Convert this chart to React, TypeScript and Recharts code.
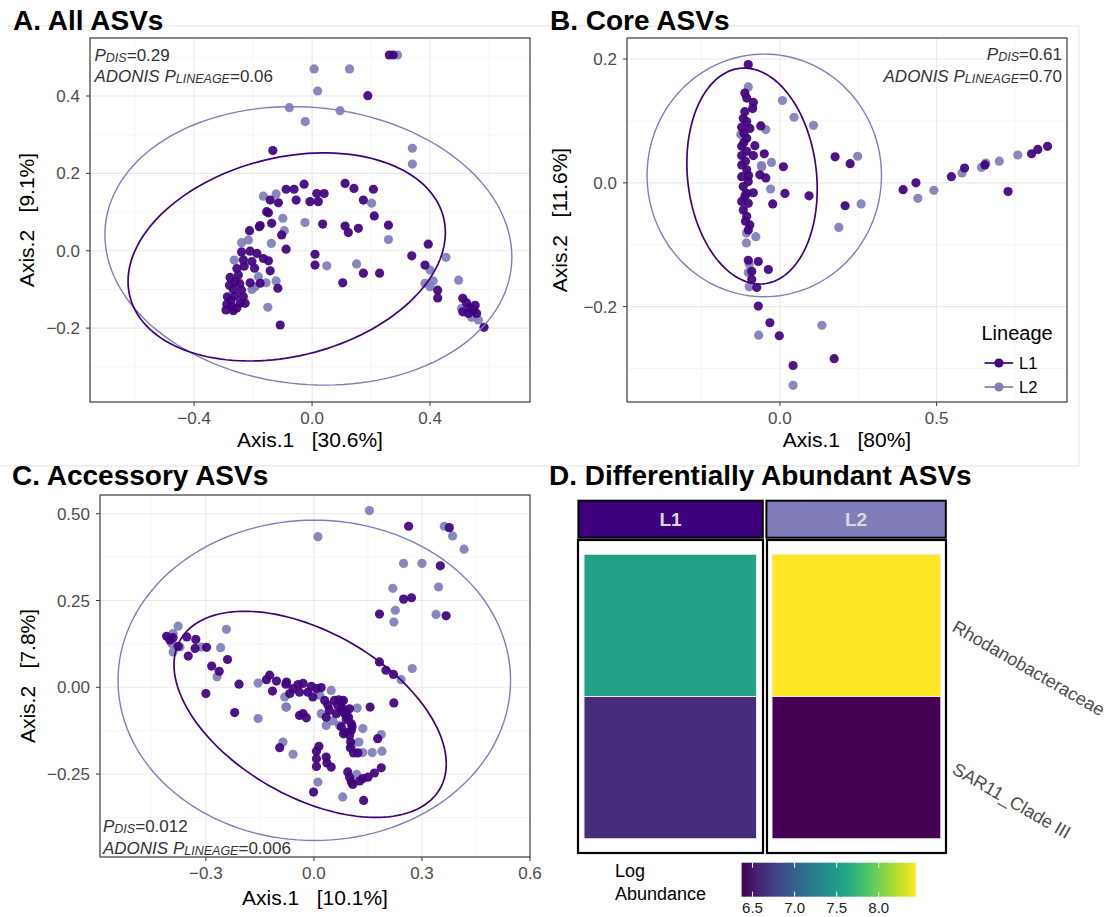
import React from "react";
import { ScatterChart, Scatter, XAxis, YAxis, CartesianGrid, BarChart, Bar } from "recharts";

const FONT = '"Liberation Sans", Arial, Helvetica, sans-serif';
const L1_COLOR = "#3F007D";
const L2_COLOR = "#807DBA";

/* ─── A. All ASVs ─────────────────────────────────────────── */
const ALL_L1: [number, number][] = [
  [0.275, 0.506], [0.262, 0.506], [0.189, 0.401], [-0.133, 0.259], [-0.027, 0.172],
  [-0.088, 0.159], [-0.061, 0.159], [-0.054, 0.131], [-0.007, 0.127], [0.021, 0.127],
  [0.016, 0.148], [0.041, 0.148], [0.112, 0.174], [0.142, 0.161], [0.208, 0.159],
  [0.174, 0.131], [0.211, 0.09], [0.259, 0.066], [0.036, 0.069], [0.112, 0.064],
  [0.123, 0.047], [0.157, 0.058], [0.394, 0.017], [0.338, -0.013], [0.383, -0.037],
  [0.01, -0.009], [0.01, -0.037], [0.174, -0.058], [0.229, -0.058], [0.104, -0.083],
  [-0.088, 0.004], [-0.103, 0.041], [-0.137, 0.071], [-0.179, 0.062], [-0.212, 0.052],
  [-0.154, 0.101], [-0.142, 0.131], [-0.114, 0.124], [-0.108, -0.192], [0.426, -0.102],
  [0.426, -0.122], [-0.148, 0.098], [-0.176, 0.065], [-0.239, -0.003], [-0.21, -0.001],
  [-0.187, -0.007], [-0.165, -0.02], [-0.148, -0.026], [-0.233, -0.024], [-0.204, -0.028],
  [-0.142, -0.052], [-0.255, -0.046], [-0.278, -0.069], [-0.25, -0.063], [-0.21, -0.083],
  [-0.176, -0.084], [-0.116, -0.097], [-0.28, -0.089], [-0.267, -0.1], [-0.239, -0.102],
  [-0.287, -0.119], [-0.261, -0.117], [-0.233, -0.119], [-0.289, -0.138], [-0.272, -0.145],
  [-0.244, -0.136], [-0.227, -0.136], [-0.292, -0.153], [-0.267, -0.155], [-0.262, -0.08],
  [-0.245, -0.085], [-0.275, -0.128], [-0.255, -0.148], [-0.23, -0.04], [-0.195, -0.045],
  [0.511, -0.123], [0.524, -0.135], [0.536, -0.147], [0.547, -0.154], [0.558, -0.162],
  [0.53, -0.162], [0.553, -0.141], [0.583, -0.198], [0.511, -0.158],
];
const ALL_L2: [number, number][] = [
  [0.29, 0.506], [0.007, 0.47], [0.127, 0.47], [0.019, 0.413], [-0.077, 0.37],
  [0.095, 0.362], [-0.023, 0.334], [0.34, 0.265], [0.34, 0.224], [-0.165, 0.141],
  [-0.122, 0.147], [-0.099, 0.084], [-0.024, 0.073], [-0.094, 0.052], [-0.138, 0.019],
  [-0.239, 0.021], [-0.216, 0.028], [-0.264, -0.024], [-0.182, -0.067], [-0.156, -0.083],
  [-0.122, -0.078], [-0.204, -0.1], [-0.15, -0.146], [0.202, 0.123], [0.259, 0.029],
  [0.05, -0.039], [0.151, -0.034], [0.454, -0.017], [0.4, -0.05], [0.411, -0.078],
  [0.383, -0.084], [0.4, -0.093], [0.497, -0.076], [-0.193, -0.093], [0.507, -0.149],
  [0.541, -0.172], [0.564, -0.179],
];

/* ─── B. Core ASVs ────────────────────────────────────────── */
const CORE_L1: [number, number][] = [
  [-0.101, 0.191], [-0.112, 0.145], [-0.106, 0.137], [-0.085, 0.13], [-0.087, 0.12],
  [-0.117, 0.104], [-0.106, 0.099], [-0.122, 0.09], [-0.096, 0.088], [-0.061, 0.092],
  [-0.106, 0.072], [-0.08, 0.06], [-0.122, 0.059], [-0.106, 0.051], [-0.085, 0.044],
  [-0.122, 0.044], [-0.05, 0.047], [0.011, 0.026], [-0.064, 0.013], [-0.045, 0.008],
  [-0.122, 0.029], [-0.106, 0.021], [-0.122, 0.01], [-0.101, 0.002], [-0.117, -0.006],
  [-0.106, -0.017], [-0.122, -0.03], [-0.101, -0.033], [-0.117, -0.044], [-0.106, -0.054],
  [-0.096, -0.068], [-0.101, -0.076], [-0.085, -0.016], [0.016, -0.017], [-0.023, -0.034],
  [0.093, -0.021], [0.176, 0.042], [0.224, 0.031], [0.208, -0.037], [-0.101, -0.125],
  [-0.069, -0.127], [-0.037, -0.14], [-0.09, -0.143], [-0.09, -0.156], [-0.074, -0.169],
  [-0.069, -0.199], [-0.032, -0.226], [-0.002, -0.247], [0.042, -0.295], [0.173, -0.284],
  [0.393, -0.011], [0.434, 0.0], [0.547, 0.01], [0.589, 0.024], [0.654, 0.029],
  [0.728, -0.014], [0.803, 0.047], [0.823, 0.054], [0.854, 0.059], [-0.115, 0.08],
  [-0.11, 0.035], [-0.115, 0.065], [-0.112, -0.022], [-0.11, -0.062], [-0.112, 0.115],
  [-0.1, 0.012],
];
const CORE_L2: [number, number][] = [
  [-0.101, 0.155], [0.008, 0.133], [0.045, 0.106], [0.107, 0.093], [-0.045, 0.086],
  [-0.125, 0.078], [-0.059, 0.028], [-0.027, 0.033], [-0.03, -0.01], [0.248, 0.043],
  [0.259, -0.034], [0.188, -0.072], [-0.107, -0.081], [-0.077, -0.087], [-0.107, -0.097],
  [-0.098, -0.131], [-0.101, -0.145], [-0.098, -0.168], [-0.068, -0.246], [0.134, -0.23],
  [0.042, -0.327], [0.44, -0.025], [0.491, -0.012], [0.581, 0.016], [0.643, 0.025],
  [0.657, 0.032], [0.7, 0.035], [0.759, 0.045], [-0.109, -0.017], [-0.058, 0.026],
];

/* ─── C. Accessory ASVs ───────────────────────────────────── */
const ACC_L1: [number, number][] = [
  [0.263, 0.464], [0.376, 0.46], [0.351, 0.35], [0.249, 0.254], [0.271, 0.258],
  [0.182, 0.211], [0.367, 0.206], [-0.409, 0.147], [-0.391, 0.143], [-0.4, 0.136],
  [-0.377, 0.118], [-0.353, 0.145], [-0.328, 0.138], [-0.33, 0.112], [-0.298, 0.115],
  [-0.349, 0.09], [-0.24, 0.08], [-0.284, 0.061], [-0.263, 0.046], [-0.208, 0.009],
  [-0.3, -0.018], [-0.22, -0.073], [-0.132, 0.022], [-0.123, 0.035], [-0.104, 0.018],
  [-0.115, -0.011], [-0.078, 0.009], [0.182, 0.073], [0.2, 0.049], [0.221, 0.037],
  [0.222, -0.045], [0.156, -0.057], [0.177, -0.148], [0.122, -0.189], [0.11, -0.189],
  [0.101, -0.174], [0.102, -0.158], [0.099, -0.138], [0.088, -0.129], [0.106, -0.114],
  [0.104, -0.105], [0.096, -0.086], [0.09, -0.074], [0.08, -0.062], [0.099, -0.062],
  [0.076, -0.043], [0.069, -0.036], [0.082, -0.038], [0.187, -0.232], [0.168, -0.247],
  [0.15, -0.259], [0.136, -0.263], [0.127, -0.27], [0.108, -0.28], [0.099, -0.259],
  [0.094, -0.244], [0.104, -0.273], [0.138, -0.326], [-0.001, -0.302], [0.014, -0.17],
  [0.007, -0.184], [0.034, -0.201], [0.048, -0.23], [0.007, -0.206], [0.007, -0.228],
  [0.036, -0.218], [-0.095, -0.174], [-0.076, 0.015], [-0.058, -0.004], [-0.044, 0.008],
  [-0.03, 0.011], [-0.04, -0.014], [-0.067, -0.018], [-0.007, 0.003], [0.007, -0.004],
  [0.02, -0.001], [-0.017, -0.014], [-0.003, -0.028], [0.03, -0.038], [0.039, -0.052],
  [0.043, -0.066], [0.057, -0.038], [0.066, -0.052], [0.076, -0.066], [0.085, -0.076],
  [0.062, -0.076], [0.034, -0.086], [-0.03, -0.076], [-0.021, -0.088], [-0.04, -0.081],
  [0.076, -0.114], [0.09, -0.093], [0.104, -0.124], [0.082, -0.134],
];
const ACC_L2: [number, number][] = [
  [0.154, 0.509], [0.011, 0.434], [0.362, 0.464], [0.385, 0.436], [0.417, 0.398],
  [0.249, 0.357], [0.3, 0.357], [0.346, 0.289], [0.219, 0.285], [0.226, 0.222],
  [0.222, 0.188], [0.339, 0.21], [-0.377, 0.176], [-0.391, 0.155], [-0.395, 0.126],
  [-0.372, 0.116], [-0.391, 0.102], [-0.312, 0.116], [-0.243, 0.167], [-0.259, 0.114],
  [-0.269, 0.03], [-0.155, -0.09], [-0.155, 0.012], [-0.081, -0.028], [-0.078, -0.057],
  [0.273, 0.054], [0.242, 0.022], [0.12, -0.06], [0.187, -0.136], [0.189, -0.184],
  [0.162, -0.188], [0.136, -0.188], [0.136, -0.119], [0.125, -0.158], [0.106, -0.167],
  [0.119, -0.251], [0.08, -0.316], [0.011, -0.273], [-0.058, -0.193], [-0.086, -0.158],
  [-0.076, -0.057], [0.048, -0.009], [0.016, -0.023], [0.02, -0.076], [0.053, -0.097],
  [0.071, -0.11], [0.034, -0.11],
];

// 95% ellipses per lineage: centre, half extents and phase between x and y
type Ell = { cx: number; cy: number; rx: number; ry: number; phase: number };
const ALL_ELL_L1: Ell = { cx: -0.086, cy: -0.016, rx: 0.538, ry: 0.269, phase: 1.334 };
const ALL_ELL_L2: Ell = { cx: -0.0125, cy: 0.0127, rx: 0.69, ry: 0.36, phase: 1.651 };
const CORE_ELL_L1: Ell = { cx: -0.089, cy: 0.011, rx: 0.208, ry: 0.1744, phase: 1.691 };
const CORE_ELL_L2: Ell = { cx: -0.05, cy: 0.012, rx: 0.374, ry: 0.196, phase: 1.571 };
const ACC_ELL_L1: Ell = { cx: -0.0105, cy: -0.078, rx: 0.378, ry: 0.297, phase: 2.072 };
const ACC_ELL_L2: Ell = { cx: 0.001, cy: 0.02, rx: 0.545, ry: 0.4615, phase: 1.571 };

/* ─── D. Differentially abundant ASVs ─────────────────────── */
const TAXA = ["Rhodanobacteraceae", "SAR11_Clade III"];
const LOG_ABUND_L1 = [7.55, 6.63];
const LOG_ABUND_L2 = [8.44, 6.37];
const LEGEND_TICKS = [6.5, 7.0, 7.5, 8.0];

const VIRIDIS = [
  "#440154", "#482475", "#414487", "#355F8D", "#2A788E", "#21918C",
  "#22A884", "#44BF70", "#7AD151", "#BDDF26", "#FDE725",
];
const ABUND_MIN = Math.min(...LOG_ABUND_L1, ...LOG_ABUND_L2);
const ABUND_MAX = Math.max(...LOG_ABUND_L1, ...LOG_ABUND_L2);

function hex(c: string) {
  return [1, 3, 5].map((i) => parseInt(c.slice(i, i + 2), 16));
}
function viridis(v: number) {
  const t = Math.max(0, Math.min(1, (v - ABUND_MIN) / (ABUND_MAX - ABUND_MIN))) * 10;
  const i = Math.min(9, Math.floor(t));
  const f = t - i;
  const a = hex(VIRIDIS[i]);
  const b = hex(VIRIDIS[i + 1]);
  const m = a.map((x, k) => Math.round(x + (b[k] - x) * f));
  return `rgb(${m[0]},${m[1]},${m[2]})`;
}

function ellipse(e: Ell) {
  const pts = [];
  for (let i = 0; i <= 144; i++) {
    const t = (i / 144) * Math.PI * 2;
    pts.push({ x: e.cx + e.rx * Math.cos(t), y: e.cy + e.ry * Math.cos(t - e.phase) });
  }
  return pts;
}

const fmt = (d: number) => (v: number) => (v < -1e-9 ? "\u2212" : "") + Math.abs(v).toFixed(d);
const dot = (color: string) => (p: any) => (
  <circle cx={p.cx} cy={p.cy} r={4.6} fill={color} fillOpacity={0.92} />
);
const none = () => <g />;

const YW = 80;
const MT = 10;
const MR = 22;
const XH = 34;
const TICK = { fill: "#4D4D4D", fontSize: 17, fontFamily: FONT };

function Ordination(props: any) {
  const { box, xDomain, yDomain, xTicks, yTicks, xMinor, yMinor, xd, yd, l1, l2, e1, e2 } = props;
  return (
    <div style={{ position: "absolute", left: box.x - YW, top: box.y - MT }}>
      <ScatterChart
        width={YW + box.w + MR}
        height={MT + box.h + XH}
        margin={{ top: MT, right: MR, bottom: 0, left: 0 }}
      >
        <XAxis xAxisId="minor" type="number" dataKey="x" domain={xDomain} ticks={xMinor} allowDataOverflow hide />
        <YAxis yAxisId="minor" type="number" dataKey="y" domain={yDomain} ticks={yMinor} allowDataOverflow hide />
        <CartesianGrid xAxisId="minor" yAxisId="minor" stroke="#F3F3F3" strokeWidth={0.8} />
        <CartesianGrid stroke="#E8E8E8" strokeWidth={1.1} />
        <XAxis
          type="number"
          dataKey="x"
          domain={xDomain}
          ticks={xTicks}
          interval={0}
          allowDataOverflow
          height={XH}
          axisLine={false}
          tickSize={4}
          tickMargin={6}
          tickLine={{ stroke: "#333333" }}
          tick={TICK}
          tickFormatter={fmt(xd)}
        />
        <YAxis
          type="number"
          dataKey="y"
          domain={yDomain}
          ticks={yTicks}
          interval={0}
          allowDataOverflow
          width={YW}
          axisLine={false}
          tickSize={4}
          tickMargin={6}
          tickLine={{ stroke: "#333333" }}
          tick={TICK}
          tickFormatter={fmt(yd)}
        />
        <Scatter name="L2" data={l2.map(([x, y]: number[]) => ({ x, y }))} shape={dot(L2_COLOR)} isAnimationActive={false} />
        <Scatter name="L1" data={l1.map(([x, y]: number[]) => ({ x, y }))} shape={dot(L1_COLOR)} isAnimationActive={false} />
        <Scatter data={ellipse(e2)} line={{ stroke: L2_COLOR, strokeWidth: 1.4 }} shape={none} isAnimationActive={false} />
        <Scatter data={ellipse(e1)} line={{ stroke: L1_COLOR, strokeWidth: 1.7 }} shape={none} isAnimationActive={false} />
      </ScatterChart>
    </div>
  );
}

const BOX_A = { x: 90, y: 38, w: 440, h: 364 };
const BOX_B = { x: 627, y: 38, w: 440, h: 364 };
const BOX_C = { x: 100, y: 495, w: 430, h: 362 };
const FACET_TOP = 540;
const FACET_H = 313;
const FACET_L1 = { x: 578, w: 185, bar: 172.5 };
const FACET_L2 = { x: 767, w: 179, bar: 168.8 };
const CBAR = { x: 741.6, y: 862.7, w: 174.2, h: 34 };

const taxonTick = (p: any) => {
  const name = p.payload.value > 1 ? TAXA[0] : TAXA[1];
  return (
    <text
      x={p.x}
      y={p.y}
      transform={`rotate(30 ${p.x} ${p.y})`}
      textAnchor="start"
      dominantBaseline="central"
      fontSize={18}
      fill="#4D4D4D"
      fontFamily={FONT}
    >
      {name}
    </text>
  );
};

function Facet({ lineage, values, facet, labels }: any) {
  const row: any = { lineage };
  TAXA.forEach((t) => (row[t] = 1));
  const labelW = labels ? 170 : 0;
  return (
    <div style={{ position: "absolute", left: facet.x, top: FACET_TOP }}>
      <BarChart
        width={facet.w + labelW}
        height={FACET_H}
        data={[row]}
        margin={{ top: 0, right: 0, bottom: 0, left: 0 }}
        barSize={facet.bar}
      >
        <XAxis dataKey="lineage" type="category" hide />
        {labels ? (
          <YAxis
            orientation="right"
            type="number"
            domain={[-0.1, 2.1]}
            ticks={[0.5, 1.5]}
            interval={0}
            width={labelW}
            axisLine={false}
            tickLine={false}
            tickSize={0}
            tickMargin={8}
            tick={taxonTick}
            allowDataOverflow
          />
        ) : (
          <YAxis type="number" domain={[-0.1, 2.1]} hide allowDataOverflow />
        )}
        <Bar dataKey={TAXA[1]} stackId="t" fill={viridis(values[1])} stroke="#EDEDED" strokeWidth={1} isAnimationActive={false} />
        <Bar dataKey={TAXA[0]} stackId="t" fill={viridis(values[0])} stroke="#EDEDED" strokeWidth={1} isAnimationActive={false} />
      </BarChart>
    </div>
  );
}

function Stat({ x, y, name, value, anchor }: any) {
  return (
    <text x={x} y={y} fontSize={17} fill="#333333" textAnchor={anchor || "start"}>
      {name ? <tspan fontStyle="italic">{name} </tspan> : null}
      <tspan fontStyle="italic">P</tspan>
      <tspan fontStyle="italic" fontSize={12.5} dy={1}>
        {value[0]}
      </tspan>
      <tspan dy={-1}>={value[1]}</tspan>
    </text>
  );
}

export default function App() {
  const cbX = (v: number) => CBAR.x + ((v - ABUND_MIN) / (ABUND_MAX - ABUND_MIN)) * CBAR.w;
  return (
    <div
      style={{
        position: "absolute",
        left: 0,
        top: 0,
        width: 1115,
        height: 917,
        background: "#ffffff",
        overflow: "hidden",
        fontFamily: FONT,
      }}
    >
      <Ordination
        box={BOX_A}
        xDomain={[-0.753, 0.739]}
        yDomain={[-0.391, 0.55]}
        xTicks={[-0.4, 0, 0.4]}
        yTicks={[-0.2, 0, 0.2, 0.4]}
        xMinor={[-0.6, -0.2, 0.2, 0.6]}
        yMinor={[-0.3, -0.1, 0.1, 0.3, 0.5]}
        xd={1}
        yd={1}
        l1={ALL_L1}
        l2={ALL_L2}
        e1={ALL_ELL_L1}
        e2={ALL_ELL_L2}
      />
      <Ordination
        box={BOX_B}
        xDomain={[-0.488, 0.916]}
        yDomain={[-0.354, 0.234]}
        xTicks={[0, 0.5]}
        yTicks={[-0.2, 0, 0.2]}
        xMinor={[-0.25, 0.25, 0.75]}
        yMinor={[-0.3, -0.1, 0.1]}
        xd={1}
        yd={1}
        l1={CORE_L1}
        l2={CORE_L2}
        e1={CORE_ELL_L1}
        e2={CORE_ELL_L2}
      />
      <Ordination
        box={BOX_C}
        xDomain={[-0.594, 0.6]}
        yDomain={[-0.489, 0.554]}
        xTicks={[-0.3, 0, 0.3, 0.6]}
        yTicks={[-0.25, 0, 0.25, 0.5]}
        xMinor={[-0.45, -0.15, 0.15, 0.45]}
        yMinor={[-0.375, -0.125, 0.125, 0.375]}
        xd={1}
        yd={2}
        l1={ACC_L1}
        l2={ACC_L2}
        e1={ACC_ELL_L1}
        e2={ACC_ELL_L2}
      />
      <Facet lineage="L1" values={LOG_ABUND_L1} facet={FACET_L1} labels={false} />
      <Facet lineage="L2" values={LOG_ABUND_L2} facet={FACET_L2} labels={true} />

      <svg
        width={1115}
        height={917}
        style={{ position: "absolute", left: 0, top: 0, pointerEvents: "none" }}
        fontFamily={FONT}
      >
        <defs>
          <linearGradient id="viridis" x1="0" y1="0" x2="1" y2="0">
            {VIRIDIS.map((c, i) => (
              <stop key={i} offset={`${i * 10}%`} stopColor={c} />
            ))}
          </linearGradient>
        </defs>
        {/* faint frame left over from figure assembly */}
        <path d="M8 26 H1079 V466 M0 466 H1079" fill="none" stroke="#E2E2E2" strokeWidth={1} />

        {[BOX_A, BOX_B, BOX_C].map((b, i) => (
          <rect key={i} x={b.x} y={b.y} width={b.w} height={b.h} fill="none" stroke="#333333" strokeWidth={1.1} />
        ))}

        <g fontSize={28} fontWeight="bold" fill="#000">
          <text x={13} y={30}>A. All ASVs</text>
          <text x={550} y={30}>B. Core ASVs</text>
          <text x={12} y={485}>C. Accessory ASVs</text>
          <text x={549} y={485}>D. Differentially Abundant ASVs</text>
        </g>

        <g fontSize={21} fill="#000" style={{ whiteSpace: "pre" }}>
          <text x={310} y={447} textAnchor="middle" xmlSpace="preserve">Axis.1   [30.6%]</text>
          <text x={847} y={447} textAnchor="middle" xmlSpace="preserve">Axis.1   [80%]</text>
          <text x={315} y={905} textAnchor="middle" xmlSpace="preserve">Axis.1   [10.1%]</text>
          <text x={34} y={220} textAnchor="middle" transform="rotate(-90 34 220)" xmlSpace="preserve">Axis.2   [9.1%]</text>
          <text x={567} y={220} textAnchor="middle" transform="rotate(-90 567 220)" xmlSpace="preserve">Axis.2   [11.6%]</text>
          <text x={35} y={676} textAnchor="middle" transform="rotate(-90 35 676)" xmlSpace="preserve">Axis.2   [7.8%]</text>
        </g>

        <Stat x={94.5} y={61} value={["DIS", "0.29"]} />
        <Stat x={94.5} y={82} name="ADONIS" value={["LINEAGE", "0.06"]} />
        <Stat x={1062} y={60} value={["DIS", "0.61"]} anchor="end" />
        <Stat x={1062} y={82} name="ADONIS" value={["LINEAGE", "0.70"]} anchor="end" />
        <Stat x={103} y={832} value={["DIS", "0.012"]} />
        <Stat x={103} y={854} name="ADONIS" value={["LINEAGE", "0.006"]} />

        {/* lineage legend */}
        <text x={981.5} y={340} fontSize={20} fill="#000">Lineage</text>
        {[
          { label: "L1", color: L1_COLOR, y: 363 },
          { label: "L2", color: L2_COLOR, y: 387 },
        ].map((k) => (
          <g key={k.label}>
            <line x1={984.5} x2={1013.2} y1={k.y} y2={k.y} stroke={k.color} strokeWidth={1.7} />
            <circle cx={998.9} cy={k.y} r={4.6} fill={k.color} />
            <text x={1019} y={k.y + 5.8} fontSize={16.5} fill="#000">{k.label}</text>
          </g>
        ))}

        {/* facet strips and panel boxes */}
        <rect x={578.4} y={500.7} width={184.4} height={37} fill={L1_COLOR} stroke="#000" strokeWidth={2} />
        <rect x={766.4} y={500.7} width={179.4} height={37} fill={L2_COLOR} stroke="#000" strokeWidth={2} />
        <g fontSize={19} fontWeight="bold" fill="#DADADA" textAnchor="middle">
          <text x={670.6} y={526}>L1</text>
          <text x={856.1} y={526}>L2</text>
        </g>
        <rect x={FACET_L1.x} y={FACET_TOP} width={FACET_L1.w} height={FACET_H} fill="none" stroke="#000" strokeWidth={2.2} />
        <rect x={FACET_L2.x} y={FACET_TOP} width={FACET_L2.w} height={FACET_H} fill="none" stroke="#000" strokeWidth={2.2} />

        {/* colour bar */}
        <text x={615} y={877} fontSize={18} fill="#000">Log</text>
        <text x={615} y={900} fontSize={18} fill="#000">Abundance</text>
        <rect x={CBAR.x} y={CBAR.y} width={CBAR.w} height={CBAR.h} fill="url(#viridis)" />
        {LEGEND_TICKS.map((v) => (
          <g key={v}>
            <line x1={cbX(v)} x2={cbX(v)} y1={CBAR.y} y2={CBAR.y + 5} stroke="#fff" strokeWidth={1} />
            <line x1={cbX(v)} x2={cbX(v)} y1={CBAR.y + CBAR.h - 5} y2={CBAR.y + CBAR.h} stroke="#fff" strokeWidth={1} />
            <text x={cbX(v)} y={913} fontSize={15} fill="#222" textAnchor="middle">
              {v.toFixed(1)}
            </text>
          </g>
        ))}
      </svg>
    </div>
  );
}
